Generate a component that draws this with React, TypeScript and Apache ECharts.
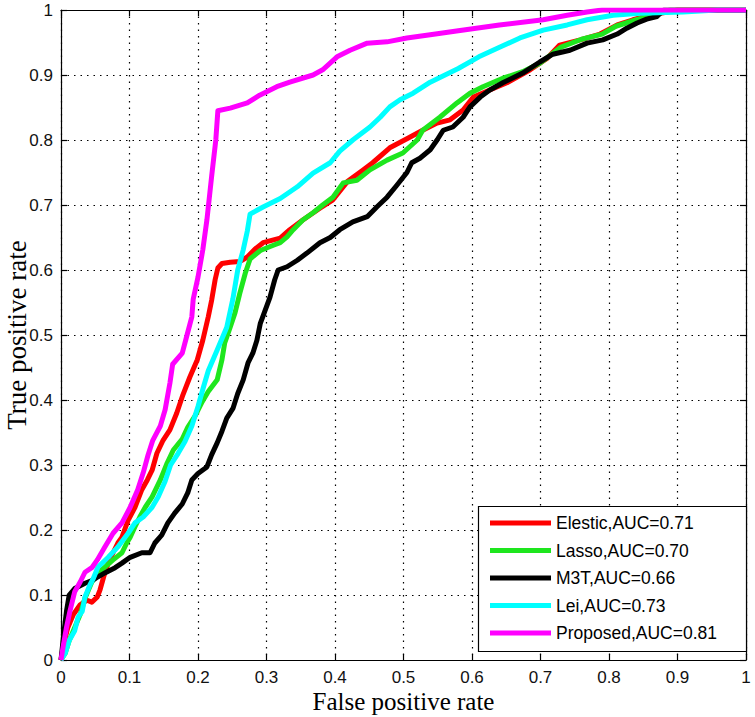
import React, { useEffect, useRef } from "react";
import * as echarts from "echarts";

const seriesNames = [
  "Elestic,AUC=0.71",
  "Lasso,AUC=0.70",
  "M3T,AUC=0.66",
  "Lei,AUC=0.73",
  "Proposed,AUC=0.81",
];

const elasticPts = [
  [0, 0], [0.004, 0.025], [0.01, 0.05], [0.018, 0.07], [0.028, 0.085], [0.038, 0.092], [0.045, 0.089],
  [0.053, 0.097], [0.057, 0.108], [0.061, 0.123], [0.064, 0.134], [0.069, 0.149], [0.076, 0.165],
  [0.083, 0.18], [0.089, 0.189], [0.098, 0.215], [0.108, 0.235], [0.118, 0.262], [0.126, 0.277],
  [0.133, 0.292], [0.14, 0.318], [0.149, 0.338], [0.159, 0.354], [0.169, 0.38], [0.178, 0.408],
  [0.188, 0.435], [0.199, 0.462], [0.207, 0.492], [0.215, 0.528], [0.22, 0.554], [0.225, 0.585],
  [0.229, 0.603], [0.235, 0.61], [0.247, 0.612], [0.261, 0.613], [0.272, 0.62], [0.283, 0.632],
  [0.295, 0.642], [0.32, 0.649], [0.334, 0.662], [0.353, 0.677], [0.378, 0.695], [0.397, 0.708],
  [0.418, 0.736], [0.441, 0.754], [0.455, 0.765], [0.48, 0.788], [0.505, 0.802], [0.528, 0.815],
  [0.549, 0.826], [0.568, 0.831], [0.587, 0.846], [0.602, 0.866], [0.626, 0.877], [0.651, 0.888],
  [0.685, 0.908], [0.709, 0.925], [0.728, 0.946], [0.758, 0.954], [0.787, 0.963], [0.812, 0.977],
  [0.835, 0.985], [0.86, 0.992], [0.885, 0.997], [0.9, 1], [1, 1],
];

const lassoPts = [
  [0, 0], [0.006, 0.01], [0.012, 0.03], [0.02, 0.05], [0.028, 0.07], [0.035, 0.095], [0.045, 0.12],
  [0.054, 0.134], [0.064, 0.143], [0.076, 0.154], [0.089, 0.165], [0.096, 0.18], [0.101, 0.189],
  [0.108, 0.205], [0.115, 0.22], [0.123, 0.235], [0.133, 0.251], [0.145, 0.277], [0.155, 0.303],
  [0.164, 0.323], [0.177, 0.34], [0.185, 0.358], [0.196, 0.376], [0.206, 0.397], [0.215, 0.413],
  [0.228, 0.431], [0.235, 0.462], [0.239, 0.488], [0.247, 0.512], [0.254, 0.534], [0.261, 0.564],
  [0.269, 0.595], [0.276, 0.617], [0.291, 0.63], [0.31, 0.638], [0.32, 0.642], [0.33, 0.651],
  [0.339, 0.662], [0.353, 0.677], [0.368, 0.688], [0.382, 0.7], [0.397, 0.712], [0.412, 0.734],
  [0.432, 0.738], [0.451, 0.754], [0.476, 0.769], [0.499, 0.78], [0.52, 0.8], [0.528, 0.815],
  [0.553, 0.835], [0.578, 0.857], [0.597, 0.872], [0.616, 0.882], [0.645, 0.895], [0.674, 0.905],
  [0.699, 0.918], [0.73, 0.943], [0.76, 0.955], [0.79, 0.963], [0.81, 0.975], [0.84, 0.985],
  [0.865, 0.993], [0.88, 0.998], [0.89, 1], [1, 1],
];

const m3tPts = [
  [0, 0], [0.004, 0.04], [0.008, 0.075], [0.012, 0.1], [0.02, 0.11], [0.035, 0.118], [0.047, 0.123],
  [0.054, 0.128], [0.064, 0.134], [0.079, 0.142], [0.089, 0.149], [0.101, 0.158], [0.118, 0.165],
  [0.13, 0.165], [0.137, 0.18], [0.147, 0.192], [0.156, 0.211], [0.166, 0.226], [0.177, 0.24],
  [0.185, 0.257], [0.191, 0.277], [0.2, 0.287], [0.213, 0.297], [0.22, 0.316], [0.228, 0.334],
  [0.235, 0.352], [0.242, 0.372], [0.251, 0.387], [0.258, 0.41], [0.266, 0.431], [0.273, 0.457],
  [0.28, 0.472], [0.286, 0.492], [0.291, 0.518], [0.298, 0.538], [0.305, 0.558], [0.312, 0.585],
  [0.317, 0.6], [0.33, 0.605], [0.345, 0.615], [0.359, 0.626], [0.378, 0.642], [0.393, 0.65],
  [0.407, 0.662], [0.426, 0.674], [0.447, 0.682], [0.461, 0.697], [0.476, 0.712], [0.49, 0.73],
  [0.505, 0.75], [0.512, 0.765], [0.524, 0.772], [0.539, 0.785], [0.549, 0.8], [0.558, 0.815],
  [0.572, 0.82], [0.587, 0.835], [0.597, 0.851], [0.612, 0.866], [0.626, 0.877], [0.645, 0.888],
  [0.674, 0.903], [0.699, 0.92], [0.718, 0.932], [0.743, 0.938], [0.768, 0.949], [0.791, 0.954],
  [0.812, 0.963], [0.826, 0.972], [0.841, 0.98], [0.855, 0.986], [0.87, 0.99], [0.88, 1], [1, 1],
];

const leiPts = [
  [0, 0], [0.006, 0.01], [0.012, 0.03], [0.02, 0.045], [0.025, 0.066], [0.031, 0.075], [0.035, 0.097],
  [0.042, 0.115], [0.047, 0.125], [0.054, 0.143], [0.069, 0.158], [0.083, 0.174], [0.098, 0.195],
  [0.108, 0.211], [0.12, 0.22], [0.133, 0.235], [0.142, 0.251], [0.152, 0.275], [0.16, 0.3],
  [0.171, 0.318], [0.181, 0.336], [0.191, 0.36], [0.2, 0.39], [0.208, 0.42], [0.215, 0.445],
  [0.228, 0.477], [0.242, 0.512], [0.251, 0.556], [0.258, 0.6], [0.266, 0.631], [0.272, 0.66],
  [0.276, 0.686], [0.295, 0.697], [0.32, 0.71], [0.345, 0.728], [0.368, 0.749], [0.393, 0.765],
  [0.407, 0.783], [0.426, 0.8], [0.451, 0.82], [0.466, 0.835], [0.48, 0.851], [0.495, 0.862],
  [0.514, 0.872], [0.539, 0.889], [0.58, 0.91], [0.61, 0.928], [0.641, 0.943], [0.67, 0.957],
  [0.704, 0.969], [0.739, 0.977], [0.768, 0.985], [0.806, 0.992], [0.845, 0.995], [0.908, 0.997],
  [0.958, 1], [1, 1],
];

const proposedPts = [
  [0, 0], [0.003, 0.02], [0.008, 0.05], [0.013, 0.075], [0.02, 0.105], [0.028, 0.12], [0.035, 0.135],
  [0.045, 0.142], [0.053, 0.154], [0.064, 0.174], [0.076, 0.195], [0.089, 0.211], [0.101, 0.235],
  [0.112, 0.262], [0.12, 0.288], [0.127, 0.315], [0.134, 0.338], [0.145, 0.36], [0.152, 0.385],
  [0.159, 0.426], [0.163, 0.455], [0.177, 0.472], [0.184, 0.5], [0.191, 0.528], [0.193, 0.555],
  [0.2, 0.589], [0.207, 0.631], [0.213, 0.677], [0.22, 0.745], [0.226, 0.8], [0.229, 0.845],
  [0.247, 0.849], [0.272, 0.857], [0.29, 0.869], [0.315, 0.882], [0.334, 0.889], [0.368, 0.9],
  [0.382, 0.908], [0.403, 0.928], [0.422, 0.938], [0.447, 0.949], [0.476, 0.951], [0.505, 0.957],
  [0.539, 0.962], [0.58, 0.968], [0.64, 0.977], [0.704, 0.985], [0.739, 0.992], [0.768, 0.997],
  [0.79, 1], [1, 1],
];

const seriesData = [elasticPts, lassoPts, m3tPts, leiPts, proposedPts];
const seriesColors = ["#ff0000", "#1ee61e", "#000000", "#00ffff", "#ff00ff"];

const xTitle = "False positive rate";
const yTitle = "True positive rate";

const tickFont = "'Liberation Sans', Arial, sans-serif";
const titleFont = "'Liberation Serif', 'Times New Roman', serif";

const fmt = (v: number) => String(Number(v.toFixed(1)));

export default function App() {
  const ref = useRef<HTMLDivElement>(null);
  useEffect(() => {
    if (!ref.current) return;
    const chart = echarts.init(ref.current, null, { renderer: "svg" });
    const dotted = { show: true, lineStyle: { color: "#000", width: 1.2, type: [1.5, 5] as any } };
    const axisCommon = {
      type: "value" as const,
      min: 0,
      max: 1,
      interval: 0.1,
      axisLine: { show: true, onZero: false, lineStyle: { color: "#000", width: 1.2 } },
      axisTick: { show: true, inside: true, length: 6, lineStyle: { color: "#000", width: 1.2 } },
    };
    chart.setOption({
      animation: false,
      backgroundColor: "#fff",
      grid: { left: 61, right: 9, top: 10, bottom: 57, containLabel: false, outerBoundsMode: "none" },
      xAxis: [
        {
          ...axisCommon,
          position: "bottom",
          name: xTitle,
          nameLocation: "middle",
          nameGap: 29,
          nameMoveOverlap: false,
          nameTextStyle: { fontFamily: titleFont, fontSize: 25, color: "#000" },
          axisLabel: { formatter: fmt, fontFamily: tickFont, fontSize: 17, color: "#111", margin: 9 },
          splitLine: dotted,
        },
        {
          ...axisCommon,
          position: "top",
          axisLabel: { show: false },
          splitLine: { show: false },
        },
      ],
      yAxis: [
        {
          ...axisCommon,
          position: "left",
          name: yTitle,
          nameLocation: "middle",
          nameGap: 31,
          nameMoveOverlap: false,
          nameTextStyle: { fontFamily: titleFont, fontSize: 27, color: "#000" },
          axisLabel: { formatter: fmt, fontFamily: tickFont, fontSize: 17, color: "#111", margin: 8 },
          splitLine: dotted,
        },
        {
          ...axisCommon,
          position: "right",
          axisLabel: { show: false },
          splitLine: { show: false },
        },
      ],
      legend: {
        left: 490,
        top: 514,
        orient: "vertical",
        icon: "rect",
        itemWidth: 61,
        itemHeight: 5,
        itemGap: 9.5,
        padding: 0,
        z: 20,
        data: seriesNames,
        textStyle: { fontFamily: tickFont, fontSize: 17.5, color: "#000", lineHeight: 18 },
      },
      graphic: [
        {
          type: "rect",
          z: 15,
          shape: { x: 478.5, y: 506.5, width: 268, height: 145 },
          style: { fill: "#fff", stroke: "#000", lineWidth: 1.2 },
        },
      ],
      series: seriesNames.map((name, i) => ({
        name,
        type: "line",
        data: seriesData[i],
        color: seriesColors[i],
        showSymbol: false,
        symbol: "none",
        lineStyle: { width: 5, color: seriesColors[i], join: "round" },
        z: 2 + i * 0.1,
      })),
    });
    return () => chart.dispose();
  }, []);
  return (
    <div
      ref={ref}
      style={{ position: "fixed", left: 0, top: 0, width: 755, height: 717, background: "#fff" }}
    />
  );
}
